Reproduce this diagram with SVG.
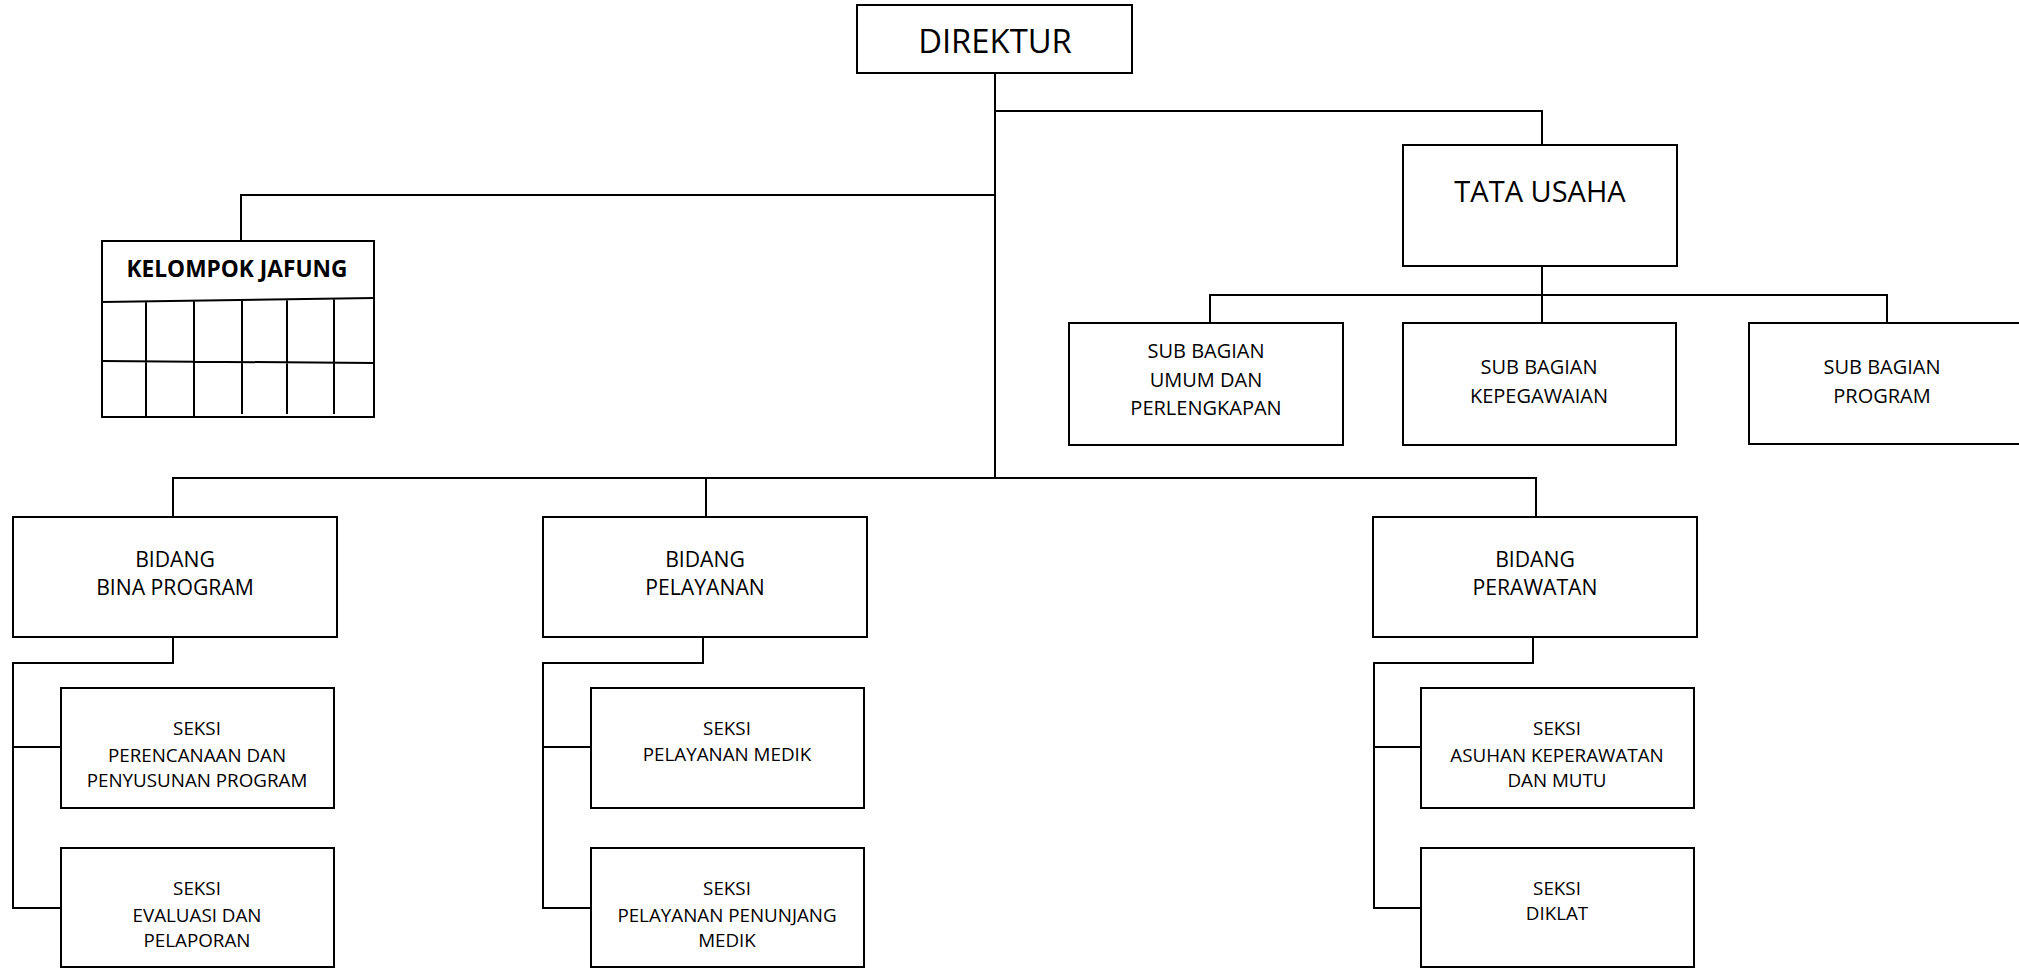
<svg xmlns="http://www.w3.org/2000/svg" width="2019" height="969" viewBox="0 0 2019 969">
<style>
.box{fill:#fff;stroke:#000;stroke-width:2}
.ln{fill:none;stroke:#000;stroke-width:2}
text{font-family:"Open Sans","Liberation Sans",sans-serif;fill:#000;text-anchor:middle}
.t1{font-size:32.8px}
.t2{font-size:29px}
.tj{font-size:22.7px;font-weight:bold}
.ts{font-size:20px}
.tb{font-size:21.2px}
.tk{font-size:18.8px}
</style>
<rect width="2019" height="969" fill="#fff"/>
<g id="connectors">
<path class="ln" d="M995 73V478"/>
<path class="ln" d="M995 111H1542V145"/>
<path class="ln" d="M995 195H241V241"/>
<path class="ln" d="M1542 266V323"/>
<path class="ln" d="M1210 323V295H1887V323"/>
<path class="ln" d="M173 517V478H1536V517"/>
<path class="ln" d="M706 478V517"/>
<path class="ln" d="M173 637V663H13V908H61"/>
<path class="ln" d="M13 747H61"/>
<path class="ln" d="M703 637V663H543V908H591"/>
<path class="ln" d="M543 747H591"/>
<path class="ln" d="M1533 637V663H1374V908H1421"/>
<path class="ln" d="M1374 747H1421"/>
</g>
<g id="direktur">
<rect class="box" x="857" y="5" width="275" height="68"/>
<text class="t1" x="995" y="53">DIREKTUR</text>
</g>
<g id="tata-usaha">
<rect class="box" x="1403" y="145" width="274" height="121"/>
<text class="t2" x="1540" y="202">TATA USAHA</text>
</g>
<g id="kelompok-jafung">
<rect class="box" x="102" y="241" width="272" height="176"/>
<path class="ln" d="M102 302L374 298M102 361L374 363M146 301V417M194 301V417M242 300V414M287 299V414M334 299V414"/>
<text class="tj" x="237" y="277">KELOMPOK JAFUNG</text>
</g>
<g id="sub-umum">
<rect class="box" x="1069" y="323" width="274" height="122"/>
<text class="ts" x="1206" y="358">SUB BAGIAN</text>
<text class="ts" x="1206" y="387">UMUM DAN</text>
<text class="ts" x="1206" y="415">PERLENGKAPAN</text>
</g>
<g id="sub-kepegawaian">
<rect class="box" x="1403" y="323" width="273" height="122"/>
<text class="ts" x="1539" y="374">SUB BAGIAN</text>
<text class="ts" x="1539" y="403">KEPEGAWAIAN</text>
</g>
<g id="sub-program">
<rect class="box" x="1749" y="323" width="276" height="121"/>
<text class="ts" x="1882" y="374">SUB BAGIAN</text>
<text class="ts" x="1882" y="403">PROGRAM</text>
</g>
<g id="bidang-bina">
<rect class="box" x="13" y="517" width="324" height="120"/>
<text class="tb" x="175" y="567">BIDANG</text>
<text class="tb" x="175" y="595">BINA PROGRAM</text>
</g>
<g id="bidang-pelayanan">
<rect class="box" x="543" y="517" width="324" height="120"/>
<text class="tb" x="705" y="567">BIDANG</text>
<text class="tb" x="705" y="595">PELAYANAN</text>
</g>
<g id="bidang-perawatan">
<rect class="box" x="1373" y="517" width="324" height="120"/>
<text class="tb" x="1535" y="567">BIDANG</text>
<text class="tb" x="1535" y="595">PERAWATAN</text>
</g>
<g id="seksi-perencanaan">
<rect class="box" x="61" y="688" width="273" height="120"/>
<text class="tk" x="197" y="735">SEKSI</text>
<text class="tk" x="197" y="762">PERENCANAAN DAN</text>
<text class="tk" x="197" y="787">PENYUSUNAN PROGRAM</text>
</g>
<g id="seksi-evaluasi">
<rect class="box" x="61" y="848" width="273" height="119"/>
<text class="tk" x="197" y="895">SEKSI</text>
<text class="tk" x="197" y="922">EVALUASI DAN</text>
<text class="tk" x="197" y="947">PELAPORAN</text>
</g>
<g id="seksi-medik">
<rect class="box" x="591" y="688" width="273" height="120"/>
<text class="tk" x="727" y="735">SEKSI</text>
<text class="tk" x="727" y="761">PELAYANAN MEDIK</text>
</g>
<g id="seksi-penunjang">
<rect class="box" x="591" y="848" width="273" height="119"/>
<text class="tk" x="727" y="895">SEKSI</text>
<text class="tk" x="727" y="922">PELAYANAN PENUNJANG</text>
<text class="tk" x="727" y="947">MEDIK</text>
</g>
<g id="seksi-asuhan">
<rect class="box" x="1421" y="688" width="273" height="120"/>
<text class="tk" x="1557" y="735">SEKSI</text>
<text class="tk" x="1557" y="762">ASUHAN KEPERAWATAN</text>
<text class="tk" x="1557" y="787">DAN MUTU</text>
</g>
<g id="seksi-diklat">
<rect class="box" x="1421" y="848" width="273" height="119"/>
<text class="tk" x="1557" y="895">SEKSI</text>
<text class="tk" x="1557" y="920">DIKLAT</text>
</g>
</svg>
